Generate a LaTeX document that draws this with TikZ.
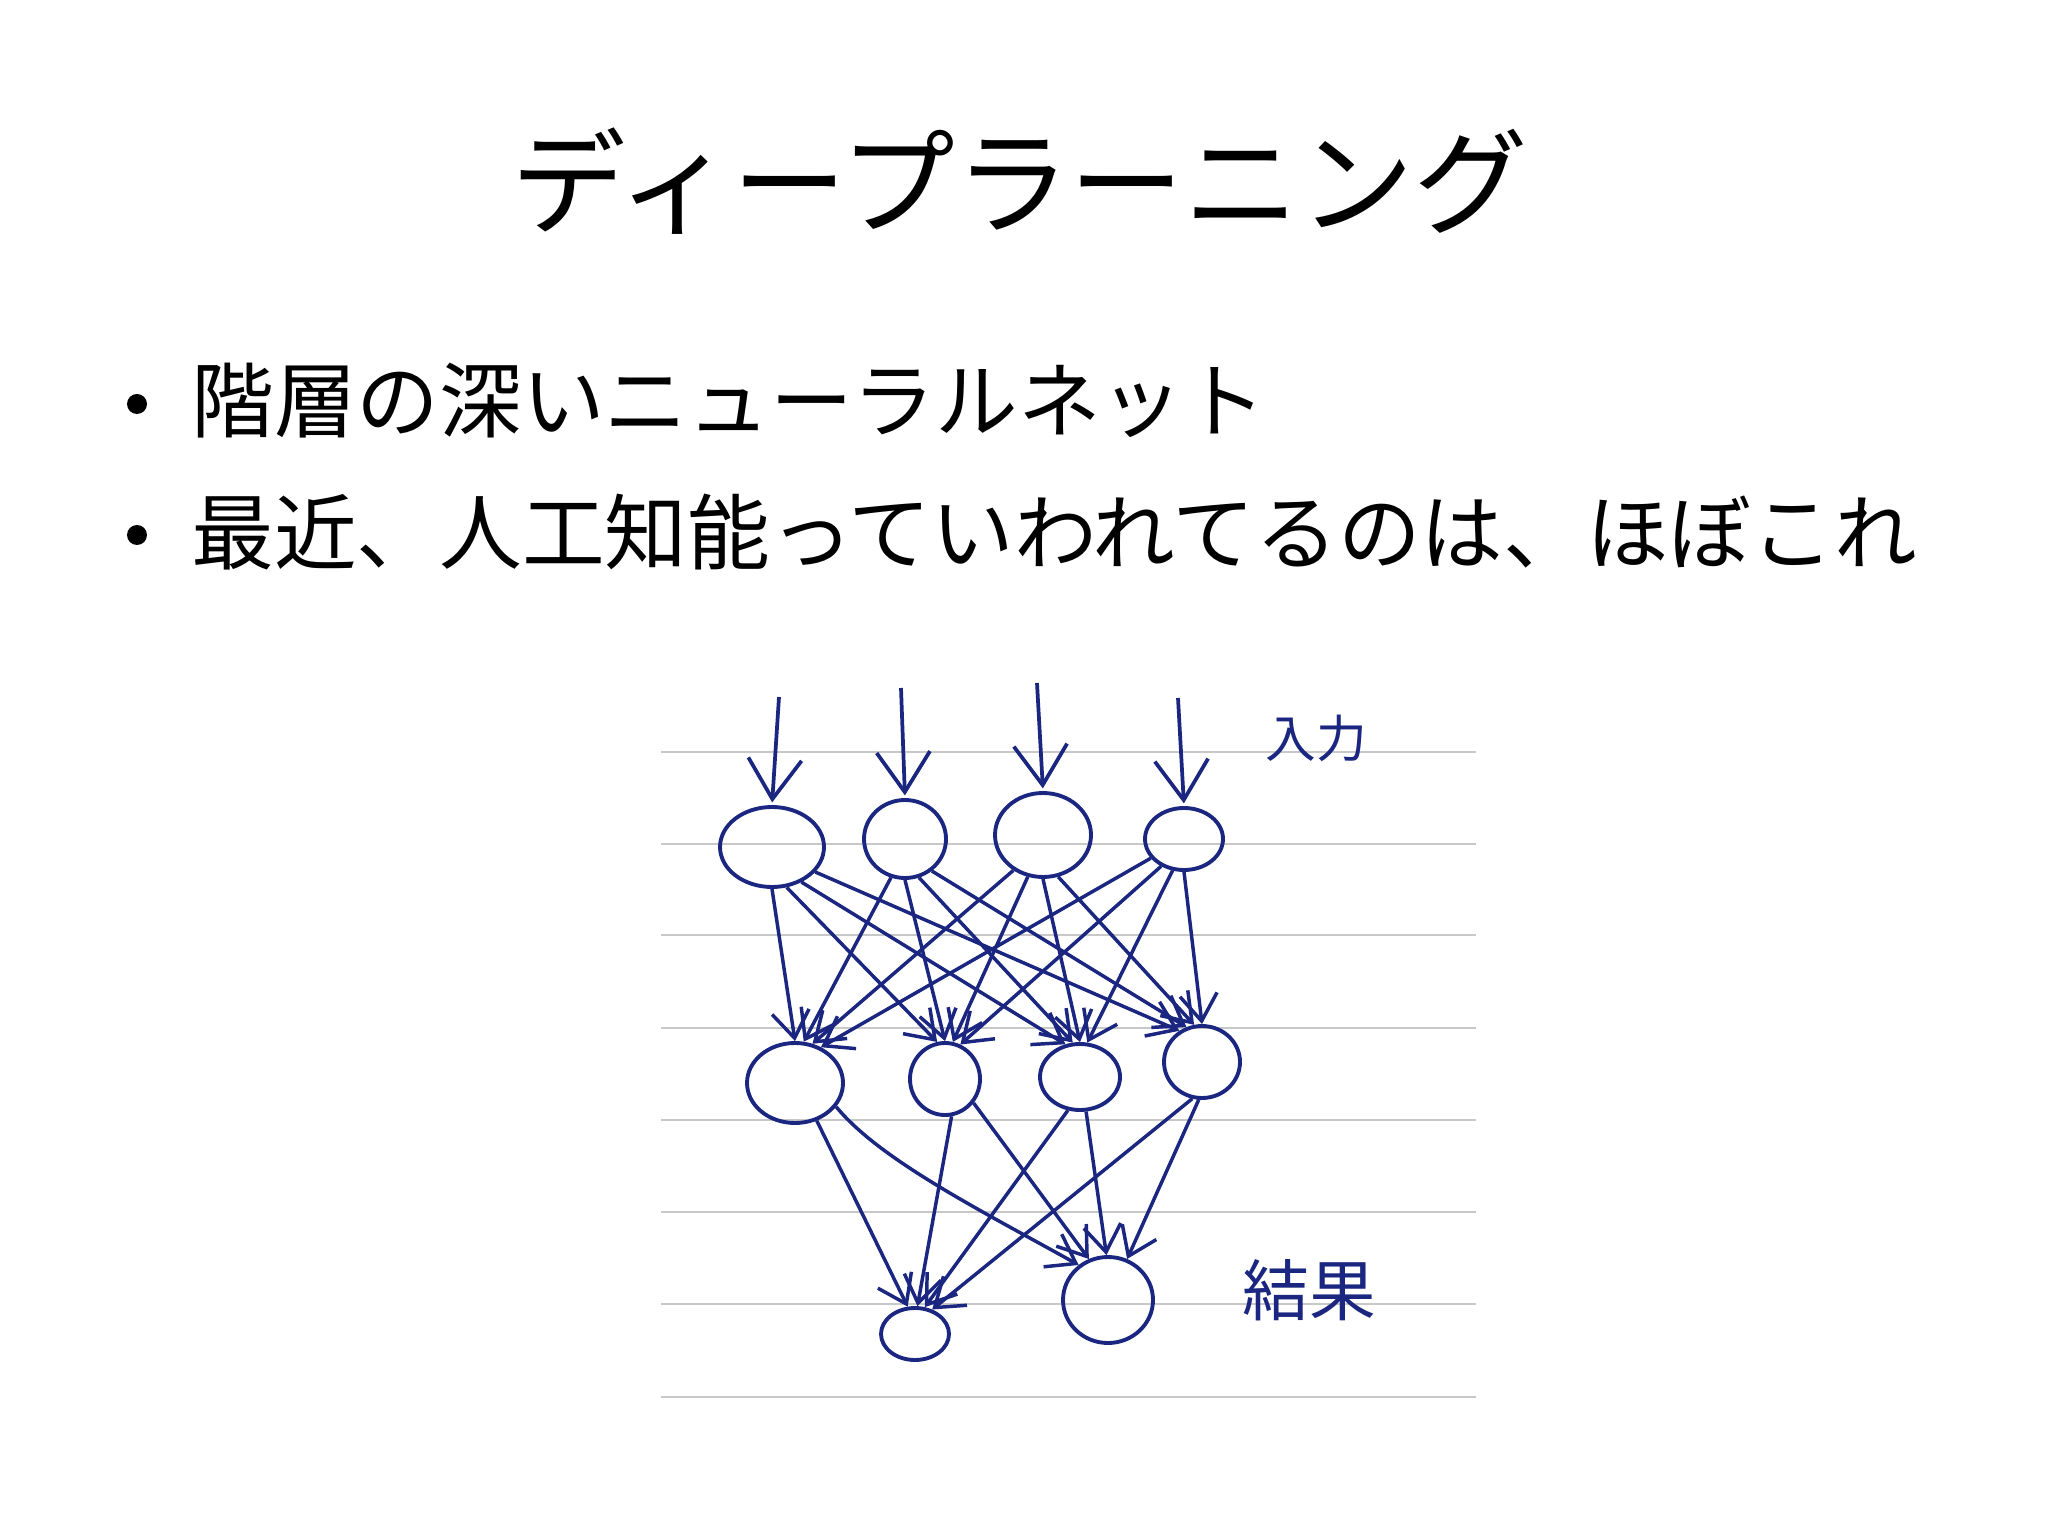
\documentclass[tikz,border=0pt]{standalone}
\usepackage{fontspec}
\newfontfamily\jp{Noto Sans CJK JP}
\usetikzlibrary{shapes.geometric,arrows.meta}
\definecolor{ink}{RGB}{26,38,128}
\definecolor{ruleline}{RGB}{200,200,200}
\begin{document}
\begin{tikzpicture}[x=0.375pt,y=-0.375pt,
  neuron/.style={draw=ink, line width=1.45pt, ellipse, inner sep=0pt},
  wire/.style={draw=ink, line width=1.3pt, -{Straight Barb[length=10pt,width=14pt]}},
  inarrow/.style={draw=ink, line width=1.4pt, -{Straight Barb[length=15pt,width=20pt]}, shorten >=1pt},
  paper/.style={draw=ruleline, line width=1pt},
  hand/.style={text=ink, inner sep=0pt},
  bullet/.style={circle, fill=black, inner sep=0pt, minimum size=7.5pt},
  bodytext/.style={anchor=west, inner sep=0pt, font=\jp\fontsize{31}{36}\selectfont}
]
\useasboundingbox (0,0) rectangle (2048,1535);
\fill[white] (0,0) rectangle (2048,1535);

% title
\node[inner sep=0pt, font=\jp\fontsize{43}{50}\selectfont] (title) at (1020,181) {ディープラーニング};

% bullets
\node[bullet] (b1) at (137,404) {};
\node[bodytext] (t1) at (191,401) {階層の深いニューラルネット};
\node[bullet] (b2) at (137,535) {};
\node[bodytext] (t2) at (191,532) {最近、人工知能っていわれてるのは、ほぼこれ};

% ruled paper
\foreach \yy in {752,844,935,1028,1120,1212,1304,1397}
  \draw[paper] (661,\yy) -- (1476,\yy);

% input layer
\node[neuron, minimum width=39pt, minimum height=30pt] (c1) at (772,847) {};
\node[neuron, minimum width=30.75pt, minimum height=29.25pt] (c2) at (905,839) {};
\node[neuron, minimum width=36pt, minimum height=31.5pt] (c3) at (1043,835) {};
\node[neuron, minimum width=29.25pt, minimum height=23.25pt] (c4) at (1184,839) {};

% hidden layer
\node[neuron, minimum width=36pt, minimum height=30pt] (d1) at (795,1083) {};
\node[neuron, minimum width=26.25pt, minimum height=27pt] (d2) at (945,1079) {};
\node[neuron, minimum width=30pt, minimum height=24.75pt] (d3) at (1080,1077) {};
\node[neuron, minimum width=28.5pt, minimum height=27pt] (d4) at (1202,1062) {};

% output layer
\node[neuron, minimum width=25.5pt, minimum height=19.5pt] (e1) at (915,1334) {};
\node[neuron, minimum width=33.75pt, minimum height=32.25pt] (e2) at (1108,1300) {};

% input arrows
\coordinate (i1) at (779,697);
\coordinate (i2) at (901,688);
\coordinate (i3) at (1037,683);
\coordinate (i4) at (1178,698);
\draw[inarrow] (i1) -- (c1.north);
\draw[inarrow] (i2) -- (c2.north);
\draw[inarrow] (i3) -- (c3.north);
\draw[inarrow] (i4) -- (c4.north);

% input -> hidden
\foreach \i in {1,...,4}
  \foreach \j in {1,...,4} {
    \pgfmathtruncatemacro\sa{-90+(\j-\i)*20}
    \pgfmathtruncatemacro\ea{90+(\j-\i)*12}
    \draw[wire] (c\i.\sa) -- (d\j.\ea);
  }

% hidden -> output
\draw[wire] (d1.-60) -- (e1.105);
\draw[wire] (d1.-30) .. controls (880,1160) and (980,1210) .. (e2.130);
\draw[wire] (d2.-80) -- (e1.85);
\draw[wire] (d2.-40) -- (e2.115);
\draw[wire] (d3.-110) -- (e1.70);
\draw[wire] (d3.-80) -- (e2.92);
\draw[wire] (d4.-105) -- (e1.55);
\draw[wire] (d4.-95) -- (e2.65);

% handwritten labels
\node[hand, font=\jp\fontsize{19}{22}\selectfont] (inlabel) at (1316,738) {入力};
\node[hand, font=\jp\fontsize{25}{28}\selectfont] (outlabel) at (1309,1290) {結果};
\end{tikzpicture}
\end{document}
